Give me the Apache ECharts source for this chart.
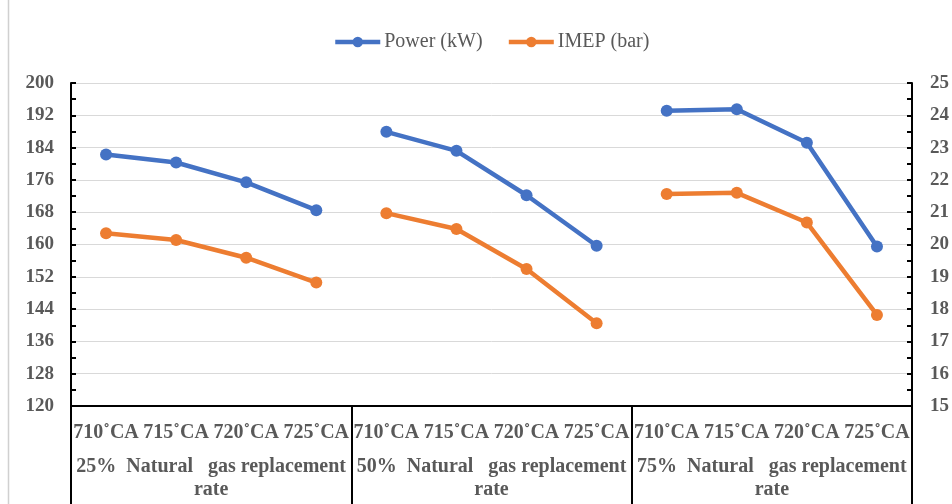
<!DOCTYPE html>
<html>
<head>
<meta charset="utf-8">
<script src="https://cdn.jsdelivr.net/npm/echarts@6/dist/echarts.min.js"></script>
<style>
  html, body { margin: 0; padding: 0; background: #fff; }
  #main { width: 952px; height: 504px; }
</style>
</head>
<body>
<div id="main"></div>
<script>
// crank angle labels, 4 per group
var xLabels = ['710˚CA', '715˚CA', '720˚CA', '725˚CA',
               '710˚CA', '715˚CA', '720˚CA', '725˚CA',
               '710˚CA', '715˚CA', '720˚CA', '725˚CA'];
var groups = ['25%  Natural   gas replacement\nrate',
              '50%  Natural   gas replacement\nrate',
              '75%  Natural   gas replacement\nrate'];
// Power (kW), left axis
var power25 = [182.3, 180.3, 175.4, 168.5];
var power50 = [187.9, 183.2, 172.2, 159.7];
var power75 = [193.1, 193.5, 185.2, 159.5];
// IMEP (bar), right axis
var imep25 = [20.35, 20.14, 19.59, 18.82];
var imep50 = [20.97, 20.48, 19.24, 17.56];
var imep75 = [21.56, 21.60, 20.68, 17.82];

var grey = '#595959';
var font = '"Liberation Serif", "Times New Roman", serif';

function spread(vals, g) {
    var out = [];
    for (var i = 0; i < xLabels.length; i++) out.push('-');
    vals.forEach(function (v, i) { out[g * 4 + i] = v; });
    return out;
}

function line(name, color, vals, g, yIdx) {
    return {
        name: name,
        type: 'line',
        xAxisIndex: 0,
        yAxisIndex: yIdx,
        data: spread(vals, g),
        symbol: 'circle',
        symbolSize: 12,
        itemStyle: { color: color },
        lineStyle: { color: color, width: 4.5 },
        animation: false
    };
}

var series = [];
[power25, power50, power75].forEach(function (d, g) {
    series.push(line('Power (kW)', '#4472C4', d, g, 0));
});
[imep25, imep50, imep75].forEach(function (d, g) {
    series.push(line('IMEP (bar)', '#ED7D31', d, g, 1));
});

var chart = echarts.init(document.getElementById('main'));
var option = {
    backgroundColor: '#fff',
    legend: {
        data: ['Power (kW)', 'IMEP (bar)'],
        top: 32,
        left: 333,
        padding: 0,
        itemWidth: 45,
        itemHeight: 13,
        itemGap: 24,
        lineStyle: { width: 4.5 },
        textStyle: { color: grey, fontFamily: font, fontSize: 20, padding: [0, 0, 0, -1] }
    },
    grid: { left: 71, right: 40, top: 83, bottom: 98 },
    xAxis: [{
        type: 'category',
        data: xLabels,
        position: 'bottom',
        axisLine: { lineStyle: { color: '#000', width: 2 } },
        axisTick: { alignWithLabel: true, inside: true, length: 4, lineStyle: { color: '#000', width: 2 } },
        axisLabel: { interval: 0, margin: 17, color: grey, fontFamily: font, fontSize: 20, fontWeight: 'bold' },
        splitLine: { show: false }
    }, {
        type: 'category',
        data: groups,
        position: 'bottom',
        offset: 0,
        axisLine: { show: true, lineStyle: { color: '#000', width: 0, opacity: 0 } },
        axisTick: { show: true, interval: 0, length: 98, lineStyle: { color: '#000', width: 2 } },
        axisLabel: { interval: 0, margin: 49, color: grey, fontFamily: font, fontSize: 20, fontWeight: 'bold', lineHeight: 23 }
    }],
    yAxis: [{
        type: 'value',
        min: 120,
        max: 200,
        interval: 8,
        axisLine: { show: true, lineStyle: { color: '#000', width: 2 } },
        axisTick: { show: true, inside: true, length: 5, lineStyle: { color: '#000', width: 2 } },
        minorTick: { show: true, splitNumber: 2, length: 5, lineStyle: { color: '#000', width: 2 } },
        axisLabel: { margin: 17, color: grey, fontFamily: font, fontSize: 19, fontWeight: 'bold' },
        splitLine: { lineStyle: { color: '#d9d9d9', width: 1 } }
    }, {
        type: 'value',
        min: 15,
        max: 25,
        interval: 1,
        position: 'right',
        axisLine: { show: true, lineStyle: { color: '#000', width: 2 } },
        axisTick: { show: true, inside: true, length: 5, lineStyle: { color: '#000', width: 2 } },
        minorTick: { show: true, splitNumber: 2, length: 5, lineStyle: { color: '#000', width: 2 } },
        axisLabel: { margin: 18, color: grey, fontFamily: font, fontSize: 19, fontWeight: 'bold' },
        splitLine: { show: false }
    }],
    graphic: [{
        type: 'line',
        shape: { x1: 8.5, y1: 0, x2: 8.5, y2: 504 },
        style: { stroke: '#d0d0d0', lineWidth: 1.5 }
    }],
    series: series
};
chart.setOption(option);
</script>
</body>
</html>
